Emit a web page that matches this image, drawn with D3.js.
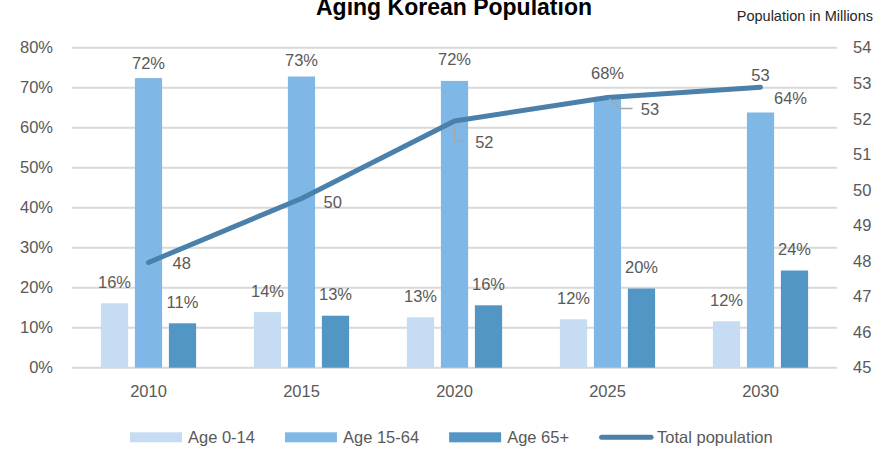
<!DOCTYPE html>
<html>
<head>
<meta charset="utf-8">
<script src="https://cdn.jsdelivr.net/npm/d3@7"></script>
<style>
  body { margin: 0; background: #fff; }
  svg { display: block; font-family: "Liberation Sans", Arial, sans-serif; }
</style>
</head>
<body>
<div id="chart"></div>
<script>
// Data
var years = ["2010", "2015", "2020", "2025", "2030"];
var seriesNames = ["Age 0-14", "Age 15-64", "Age 65+"];
var age0to14 = [0.161, 0.139, 0.126, 0.121, 0.116];
var age15to64 = [0.724, 0.728, 0.717, 0.677, 0.638];
var age65plus = [0.111, 0.130, 0.156, 0.198, 0.243];
var totalPop = [47.96, 49.76, 51.94, 52.60, 52.89];
var leftTicks = [0, 0.1, 0.2, 0.3, 0.4, 0.5, 0.6, 0.7, 0.8];
var rightTicks = [45, 46, 47, 48, 49, 50, 51, 52, 53, 54];

var colors = { "Age 0-14": "#c5dcf2", "Age 15-64": "#7fb8e6", "Age 65+": "#5296c5" };
var lineColor = "#4a80aa";
var textColor = "#595959";

const width = 893, height = 449;
const margin = { top: 47.7, right: 56, bottom: 81.3, left: 72 };

var svg = d3.select("#chart").append("svg")
  .attr("width", width).attr("height", height);

// Scales
var x0 = d3.scaleBand().domain(years).range([margin.left, width - margin.right]);
var x1 = d3.scaleBand().domain(seriesNames).range([0, x0.bandwidth()])
  .paddingInner(0.2).paddingOuter(0.85);
var yLeft = d3.scaleLinear().domain([0, 0.8]).range([height - margin.bottom, margin.top]);
var yRight = d3.scaleLinear().domain([45, 54]).range([height - margin.bottom, margin.top]);

// Gridlines
svg.append("g")
  .selectAll("line")
  .data(leftTicks)
  .enter().append("line")
  .attr("x1", margin.left).attr("x2", width - margin.right)
  .attr("y1", d => yLeft(d)).attr("y2", d => yLeft(d))
  .attr("stroke", "#d9d9d9").attr("stroke-width", 2);

// Left axis
var leftAxis = d3.axisLeft(yLeft).tickValues(leftTicks).tickFormat(d3.format(".0%")).tickSize(0).tickPadding(19);
svg.append("g")
  .attr("transform", `translate(${margin.left}, 0)`)
  .call(leftAxis)
  .call(g => g.select(".domain").remove())
  .call(g => g.selectAll("text").attr("fill", textColor).style("font-size", "16.5px")
    .attr("font-family", null));

// Right axis
var rightAxis = d3.axisRight(yRight).tickValues(rightTicks).tickFormat(d3.format("d")).tickSize(0).tickPadding(16);
svg.append("g")
  .attr("transform", `translate(${width - margin.right}, 0)`)
  .call(rightAxis)
  .call(g => g.select(".domain").remove())
  .call(g => g.selectAll("text").attr("fill", textColor).style("font-size", "16.5px")
    .attr("font-family", null));

// Bottom axis
var xAxis = d3.axisBottom(x0).tickSize(0).tickPadding(18);
svg.append("g")
  .attr("transform", `translate(0, ${height - margin.bottom})`)
  .call(xAxis)
  .call(g => g.select(".domain").remove())
  .call(g => g.selectAll("text").attr("fill", textColor).style("font-size", "16.5px")
    .attr("font-family", null));

// Bars
var seriesValues = { "Age 0-14": age0to14, "Age 15-64": age15to64, "Age 65+": age65plus };
var barData = [];
years.forEach((yr, i) => {
  seriesNames.forEach(name => {
    barData.push({ year: yr, i: i, key: name, value: seriesValues[name][i] });
  });
});

// label nudges [dx, dy] for hand-placed labels
var labelNudge = {
  "Age 15-64": [[0, 6], [0, 4.5], [0, 0], [0, -2], [30, 7]]
};

var bars = svg.append("g");
bars.selectAll("rect")
  .data(barData)
  .enter().append("rect")
  .attr("x", d => x0(d.year) + x1(d.key))
  .attr("y", d => yLeft(d.value))
  .attr("width", x1.bandwidth())
  .attr("height", d => yLeft(0) - yLeft(d.value))
  .attr("fill", d => colors[d.key]);

bars.selectAll("text")
  .data(barData)
  .enter().append("text")
  .attr("x", d => {
    var n = labelNudge[d.key] ? labelNudge[d.key][d.i][0] : 0;
    return x0(d.year) + x1(d.key) + x1.bandwidth() / 2 + n;
  })
  .attr("y", d => {
    var n = labelNudge[d.key] ? labelNudge[d.key][d.i][1] : 0;
    return yLeft(d.value) - 15.5 + n;
  })
  .attr("text-anchor", "middle")
  .attr("fill", textColor)
  .style("font-size", "16.5px")
  .text(d => d3.format(".0%")(d.value));

// Total population line
var lineData = years.map((yr, i) => ({ year: yr, i: i, value: totalPop[i] }));
var px = d => x0(d.year) + x0.bandwidth() / 2;
var py = d => yRight(d.value);

var line = d3.line().x(px).y(py);

svg.append("path")
  .datum(lineData)
  .attr("fill", "none")
  .attr("stroke", lineColor)
  .attr("stroke-width", 5)
  .attr("stroke-linecap", "round")
  .attr("stroke-linejoin", "round")
  .attr("d", line);

// line labels: [dx, dy, anchor] and optional leader line
var lineLabelPos = [
  { dx: 24, dy: 7, anchor: "start" },
  { dx: 22, dy: 10, anchor: "start" },
  { dx: 20.7, dy: 26.6, anchor: "start", leader: [[0, 5], [0, 20.3], [9, 20.3]] },
  { dx: 33.3, dy: 17.7, anchor: "start", leader: [[1.6, 1], [13.3, 11], [25, 11]] },
  { dx: 0, dy: -6, anchor: "middle" }
];

var lbl = svg.append("g");
lineData.forEach((d, i) => {
  var p = lineLabelPos[i];
  if (p.leader) {
    lbl.append("path")
      .attr("d", d3.line()(p.leader.map(q => [px(d) + q[0], py(d) + q[1]])))
      .attr("fill", "none")
      .attr("stroke", "#a6a6a6")
      .attr("stroke-width", 1.5);
  }
  lbl.append("text")
    .attr("x", px(d) + p.dx)
    .attr("y", py(d) + p.dy)
    .attr("text-anchor", p.anchor)
    .attr("fill", textColor)
    .style("font-size", "16.5px")
    .text(d3.format(".0f")(d.value));
});

// Title
svg.append("text")
  .attr("x", 454)
  .attr("y", 15)
  .attr("text-anchor", "middle")
  .attr("fill", "#000")
  .style("font-size", "23px")
  .style("font-weight", "bold")
  .text("Aging Korean Population");

svg.append("text")
  .attr("x", 873)
  .attr("y", 20.7)
  .attr("text-anchor", "end")
  .attr("fill", "#262626")
  .style("font-size", "14.5px")
  .text("Population in Millions");

// Legend
var legendItems = seriesNames.map(n => ({ name: n, type: "rect" }))
  .concat([{ name: "Total population", type: "line" }]);
var legend = svg.append("g").attr("transform", "translate(0, 437.3)");
var lx = 130;
legendItems.forEach(item => {
  var g = legend.append("g").attr("transform", `translate(${lx}, 0)`);
  if (item.type === "rect") {
    g.append("rect").attr("x", 0).attr("y", -5).attr("width", 52).attr("height", 10)
      .attr("fill", colors[item.name]);
  } else {
    g.append("line").attr("x1", 2.5).attr("x2", 52).attr("y1", 0).attr("y2", 0)
      .attr("stroke", lineColor).attr("stroke-width", 5).attr("stroke-linecap", "round");
  }
  var t = g.append("text")
    .attr("x", 58)
    .attr("y", 0)
    .attr("dy", "0.35em")
    .attr("fill", textColor)
    .style("font-size", "16.5px")
    .text(item.name);
  lx += 58 + t.node().getComputedTextLength() + 30;
});
</script>
</body>
</html>
